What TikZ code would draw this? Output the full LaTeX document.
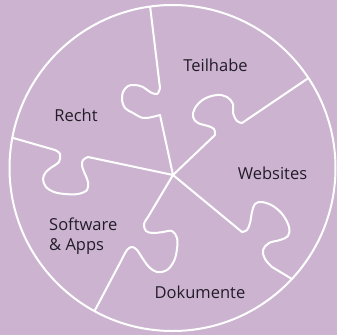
\documentclass[tikz,border=0pt]{standalone}
\usepackage{fontspec}
\setmainfont{Open Sans}
\usetikzlibrary{calc}
\definecolor{bgc}{RGB}{204,180,209}
\definecolor{txt}{RGB}{35,28,40}
\begin{document}
\begin{tikzpicture}[x=1pt,y=1pt,
  puz/.style={draw=white, line width=2pt, line join=round, line cap=round},
  lbl/.style={text=txt, font=\fontsize{16.5}{20}\selectfont, inner sep=0pt}]
\fill[bgc] (0,0) rectangle (337,-335);
\useasboundingbox (0,0) rectangle (337,-335);
\coordinate (O) at (172.5,-168);
\coordinate (C) at (173,-175);
\coordinate (e1) at ($(O)+(97.9:163pt)$);
\coordinate (e2) at ($(O)+(33.5:163pt)$);
\coordinate (e3) at ($(O)+(169.3:163pt)$);
\coordinate (e4) at ($(O)+(241.4:163pt)$);
\coordinate (e5) at ($(O)+(317.1:163pt)$);
\draw[puz] (O) circle[radius=163pt];
% top: Recht / Teilhabe
\draw[puz] (e1) -- (160,-88) -- plot[smooth,tension=0.6] coordinates {(160,-88) (157,-94) (150,-92) (143,-87) (135,-85) (128,-86) (123,-92) (122,-100) (125,-108) (133,-113) (143,-118) (152,-117) (160,-115)} -- (C);
% upper right: Teilhabe / Websites
\draw[puz] (e2) -- (242,-123) -- plot[smooth,tension=0.6] coordinates {(242,-123) (237,-121) (233,-113) (233,-104) (227,-97) (217,-95) (204,-99) (195,-108) (193,-117) (198,-123) (208,-126) (214,-129) (215,-135)} -- (C);
% left: Recht / Software
\draw[puz] (e3) -- (55,-150) -- plot[smooth,tension=0.6] coordinates {(55,-150) (60,-154) (59,-162) (52,-167) (46,-172) (43,-179) (46,-187) (54,-192) (65,-194) (78,-194) (87,-190) (88,-182) (85,-174) (82,-166) (83,-160) (88,-157)} -- (C);
% lower left: Software / Dokumente
\draw[puz] (C) -- (148,-217) -- plot[smooth,tension=0.6] coordinates {(148,-217) (144,-224) (146,-231) (153,-233) (163,-232) (172,-231) (177,-238) (177,-249) (174,-261) (167,-270) (157,-272) (149,-267) (143,-259) (137,-250) (132,-247) (127,-250) (121,-261)} -- (e4);
% lower right: Websites / Dokumente
\draw[puz] (C) -- (242,-232) -- plot[smooth,tension=0.6] coordinates {(242,-232) (247,-230) (250,-223) (252,-212) (255,-204) (262,-202) (273,-206) (283,-215) (289,-227) (288,-236) (280,-240) (269,-243) (263,-250) (265,-259) (272,-267)} -- (e5);
\node[lbl, anchor=base] (t1) at (215.5,-71) {Teilhabe};
\node[lbl, anchor=base] (t2) at (76,-121) {Recht};
\node[lbl, anchor=base] (t3) at (272.5,-179) {Websites};
\node[lbl, anchor=base] (t5) at (200,-298.5) {Dokumente};
\node[lbl, anchor=base west] (t4a) at (49,-230) {Software};
\node[lbl, anchor=base west] (t4b) at (49,-250) {\& Apps};
\end{tikzpicture}
\end{document}
